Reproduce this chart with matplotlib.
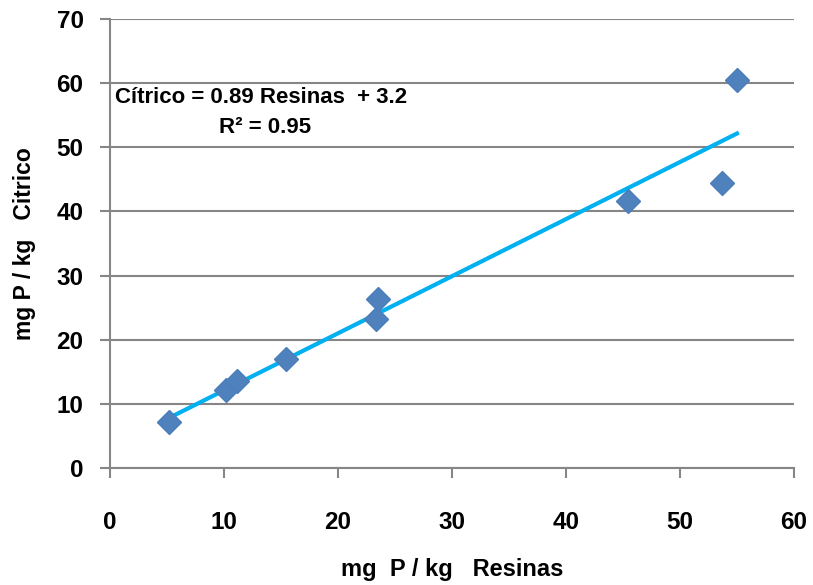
import numpy as np
import matplotlib.pyplot as plt

plt.rcParams['font.family'] = ['Liberation Sans', 'DejaVu Sans']
plt.rcParams['font.weight'] = 'bold'

# datos
resinas = [5.2, 10.2, 11.1, 15.4, 23.3, 23.5, 45.4, 53.7, 55.0]
citrico = [7.2, 12.2, 13.5, 17.0, 23.2, 26.3, 41.7, 44.4, 60.5]
pendiente = 0.89
intercepto = 3.2
r2 = 0.95

x_ticks = [0, 10, 20, 30, 40, 50, 60]
y_ticks = [0, 10, 20, 30, 40, 50, 60, 70]

fig = plt.figure(figsize=(8.13, 5.85), dpi=100)
ax = fig.add_axes([0.1353, 0.2, 0.8413, 0.7675])

gris = '#868686'
ax.set_xlim(0, 60)
ax.set_ylim(0, 70)
ax.set_xticks(x_ticks)
ax.set_yticks(y_ticks)
ax.yaxis.grid(True, color=gris, linewidth=1.5)
ax.set_axisbelow(True)
for s in ['top', 'right']:
    ax.spines[s].set_visible(False)
for s in ['left', 'bottom']:
    ax.spines[s].set_color(gris)
    ax.spines[s].set_linewidth(1.5)
    ax.spines[s].set_zorder(0.5)
ax.tick_params(colors=gris, width=1.5, length=7, labelsize=17.5, labelcolor='black')
ax.tick_params(axis='y', pad=12)
ax.tick_params(axis='x', pad=24)
for lab in ax.get_xticklabels() + ax.get_yticklabels():
    lab.set_fontweight('bold')

# recta de ajuste
xl = np.array([min(resinas), max(resinas)])
ax.plot(xl, pendiente * xl + intercepto, color='#00B0F0', linewidth=3, zorder=2, clip_on=False)

ax.plot(resinas, citrico, linestyle='none', marker='D', markersize=12,
        color='#4F81BD', markeredgecolor='#4A7EBB', zorder=3, clip_on=False)

ax.text(0.45, 57.8, 'Cítrico = %.2f Resinas  + %.1f' % (pendiente, intercepto),
        fontsize=16, fontweight='bold', ha='left', va='center')
ax.text(13.6, 53.1, 'R² = %.2f' % r2, fontsize=16, fontweight='bold', ha='center', va='center')

ax.set_xlabel('mg  P / kg   Resinas', fontsize=17, fontweight='bold', labelpad=17)
ax.set_ylabel('mg P / kg   Citrico', fontsize=16.5, fontweight='bold', labelpad=15)

fig.savefig('out.png', dpi=100)
